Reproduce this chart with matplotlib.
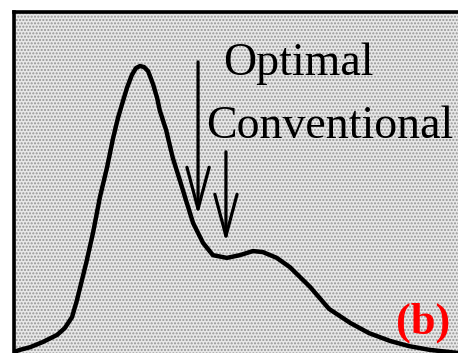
import matplotlib
matplotlib.use("Agg")
import matplotlib.pyplot as plt
from matplotlib.patches import Rectangle

# curve (x: position 0-100, y: relative height 0-1)
curve_x = [0, 1.3, 3.6, 6.4, 9.6, 11.3, 12.9, 14.0, 15.1, 16.2, 17.6, 19.1,
           20.7, 22.0, 23.1, 24.0, 25.1, 26.2, 27.1, 28.0, 28.9, 29.8, 30.9,
           31.8, 32.4, 33.8, 35.3, 36.9, 38.4, 39.8, 42.0, 44.2, 47.3, 50.2,
           53.1, 55.3, 58.4, 61.3, 65.8, 70.0, 74.7, 78.9, 83.6, 87.8, 92.4,
           98.7, 100]
curve_y = [0.006, 0.012, 0.020, 0.035, 0.056, 0.076, 0.108, 0.158, 0.216,
           0.275, 0.357, 0.459, 0.547, 0.630, 0.690, 0.730, 0.778, 0.816,
           0.836, 0.842, 0.839, 0.827, 0.789, 0.749, 0.712, 0.655, 0.573,
           0.506, 0.442, 0.383, 0.325, 0.289, 0.281, 0.289, 0.301, 0.298,
           0.281, 0.254, 0.196, 0.132, 0.091, 0.061, 0.038, 0.023, 0.012,
           0.003, 0.002]

# arrows: label, x, tail y, tip y
arrow_labels = ["Optimal", "Conventional"]
arrow_x = [40.9, 47.1]
arrow_tail = [0.854, 0.591]
arrow_tip = [0.406, 0.327]
label_x = [46.4, 42.6]
label_y = [0.816, 0.632]

panel_label = "(b)"

fig = plt.figure(figsize=(4.58, 3.53), dpi=100)
fig.patch.set_facecolor("white")
ax = fig.add_axes([14 / 458, -1 / 353, 450 / 458, 342 / 353])
ax.set_xlim(0, 100)
ax.set_ylim(0, 1)
ax.patch.set_facecolor("#e2e2e2")

# halftone-like background
plt.rcParams["hatch.linewidth"] = 1.0
ax.add_patch(Rectangle((0, 0), 1, 1, transform=ax.transAxes, facecolor="#e8e8e8",
                       edgecolor="#949494", linewidth=0, hatch=".....", zorder=0))

ax.plot(curve_x, curve_y, color="black", lw=3.2, solid_capstyle="round",
        solid_joinstyle="round", zorder=3)

for lab, x, y0, y1, tx, ty in zip(arrow_labels, arrow_x, arrow_tail, arrow_tip, label_x, label_y):
    ax.annotate("", xy=(x, y1), xytext=(x, y0),
                arrowprops=dict(arrowstyle="->,head_length=3.0,head_width=0.8",
                                lw=2.3, color="black", shrinkA=0, shrinkB=0), zorder=4)
    ax.text(tx, ty, lab, family="Liberation Serif", fontsize=33, va="baseline",
            ha="left", color="black", zorder=5)

ax.text(84.9, 0.061, panel_label, family="Liberation Serif", fontweight="bold",
        fontsize=32, color="#ff0000", va="baseline", ha="left", zorder=5)

for side in ["left", "top"]:
    ax.spines[side].set_linewidth(2.6)
for side in ["right", "bottom"]:
    ax.spines[side].set_visible(False)
ax.set_xticks([])
ax.set_yticks([])

fig.savefig("out.png", dpi=100, facecolor=fig.get_facecolor())
